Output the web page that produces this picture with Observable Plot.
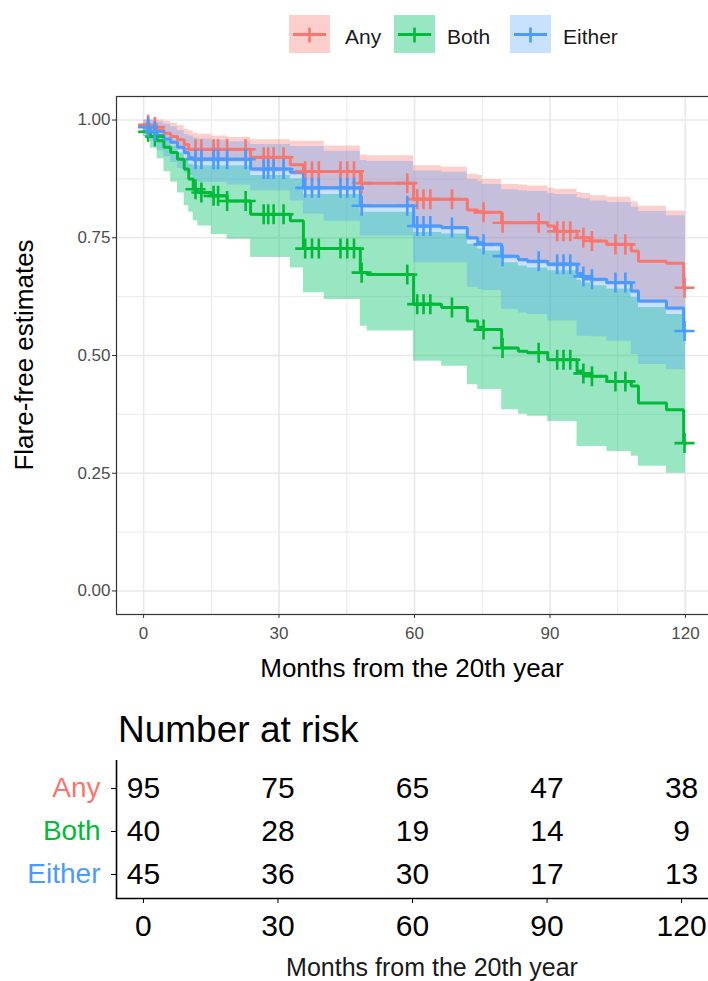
<!DOCTYPE html>
<html>
<head>
<meta charset="utf-8">
<script src="https://cdn.jsdelivr.net/npm/d3@7"></script>
<script src="https://cdn.jsdelivr.net/npm/@observablehq/plot@0.6"></script>
<style>
  html, body { margin: 0; padding: 0; overflow: hidden; background: white; }
  #wrap { position: relative; width: 708px; height: 981px; overflow: hidden; font-family: "Liberation Sans", Arial, sans-serif; }
  #main { position: absolute; left: 0; top: 0; }
  #risk { position: absolute; left: 0; top: 750px; }
  #overlay { position: absolute; left: 0; top: 0; pointer-events: none; }
  svg { max-width: none !important; }
</style>
</head>
<body>
<div id="wrap">
  <div id="main"></div>
  <div id="risk"></div>
</div>
<script>
// ---------------- data ----------------
const groups = ["Any", "Both", "Either"];
const lineColors = ["#F8766D", "#00BA38", "#4A9BFF"];
const bandColors = ["#F8766D", "#00C069", "#4A9BFF"];

// step times (months) at which the curves / confidence limits change
const stepMonths = [0, 1.5, 3, 4.5, 6, 7.5, 9, 10, 11, 12,
  15, 18.5, 23.7, 32.5, 35.4, 40, 48, 49.5, 59.8, 66,
  71.7, 74, 75, 79.3, 83, 85, 89.5, 91, 96, 97,
  99, 102.6, 108, 109.6, 115.8, 119.6, 120];

const anySurv = [0.99, 0.985, 0.979, 0.972, 0.965, 0.958, 0.948, 0.938, 0.938, 0.938,
  0.938, 0.938, 0.921, 0.905, 0.891, 0.891, 0.866, 0.866, 0.832, 0.832,
  0.809, 0.806, 0.804, 0.782, 0.782, 0.782, 0.775, 0.764, 0.75, 0.75,
  0.743, 0.736, 0.722, 0.70, 0.696, 0.644, 0.644];
const anyUpper = [1.0, 1.0, 1.0, 0.997, 0.993, 0.988, 0.98, 0.977, 0.972, 0.97,
  0.966, 0.963, 0.958, 0.955, 0.955, 0.945, 0.926, 0.924, 0.903, 0.9,
  0.885, 0.882, 0.874, 0.863, 0.862, 0.86, 0.855, 0.853, 0.846, 0.844,
  0.839, 0.836, 0.826, 0.817, 0.807, 0.807, 0.807];
const anyLower = [0.975, 0.97, 0.961, 0.954, 0.947, 0.936, 0.925, 0.914, 0.911, 0.911,
  0.911, 0.911, 0.89, 0.883, 0.85, 0.85, 0.812, 0.812, 0.769, 0.766,
  0.744, 0.734, 0.73, 0.705, 0.698, 0.694, 0.688, 0.688, 0.668, 0.662,
  0.656, 0.649, 0.631, 0.61, 0.595, 0.595, 0.595];

const bothSurv = [0.975, 0.965, 0.956, 0.942, 0.931, 0.917, 0.896, 0.875, 0.853, 0.846,
  0.839, 0.828, 0.80, 0.786, 0.727, 0.727, 0.676, 0.672, 0.609, 0.602,
  0.573, 0.56, 0.555, 0.516, 0.509, 0.506, 0.491, 0.491, 0.467, 0.462,
  0.456, 0.445, 0.435, 0.399, 0.385, 0.314, 0.314];
const bothUpper = [0.985, 0.975, 0.965, 0.955, 0.945, 0.93, 0.917, 0.906, 0.903, 0.903,
  0.903, 0.903, 0.882, 0.875, 0.842, 0.842, 0.804, 0.804, 0.761, 0.758,
  0.736, 0.726, 0.722, 0.697, 0.69, 0.686, 0.68, 0.68, 0.66, 0.654,
  0.648, 0.641, 0.623, 0.602, 0.587, 0.587, 0.587];
const bothLower = [0.965, 0.94, 0.918, 0.89, 0.868, 0.845, 0.818, 0.804, 0.786, 0.775,
  0.757, 0.747, 0.708, 0.686, 0.633, 0.619, 0.562, 0.552, 0.488, 0.477,
  0.438, 0.428, 0.428, 0.385, 0.375, 0.371, 0.36, 0.36, 0.307, 0.307,
  0.307, 0.296, 0.286, 0.265, 0.25, 0.25, 0.25];

const eitherSurv = [0.985, 0.976, 0.967, 0.96, 0.953, 0.942, 0.931, 0.92, 0.917, 0.917,
  0.917, 0.917, 0.896, 0.889, 0.856, 0.856, 0.818, 0.818, 0.775, 0.772,
  0.75, 0.74, 0.736, 0.711, 0.704, 0.70, 0.694, 0.694, 0.674, 0.668,
  0.662, 0.655, 0.637, 0.616, 0.601, 0.552, 0.552];
const eitherUpper = [1.0, 1.0, 0.996, 0.991, 0.986, 0.978, 0.97, 0.966, 0.962, 0.96,
  0.957, 0.954, 0.948, 0.944, 0.944, 0.934, 0.914, 0.912, 0.892, 0.889,
  0.874, 0.87, 0.863, 0.852, 0.85, 0.848, 0.844, 0.842, 0.835, 0.833,
  0.828, 0.825, 0.815, 0.806, 0.797, 0.797, 0.797];
const eitherLower = [0.975, 0.955, 0.935, 0.922, 0.91, 0.897, 0.888, 0.882, 0.875, 0.868,
  0.868, 0.862, 0.85, 0.828, 0.80, 0.785, 0.754, 0.754, 0.697, 0.697,
  0.645, 0.64, 0.638, 0.598, 0.59, 0.587, 0.573, 0.573, 0.541, 0.541,
  0.54, 0.53, 0.502, 0.481, 0.47, 0.47, 0.47];

// censoring times (months), shown as "+" on each curve
const censorMonths = [1, 2.5, 11.5, 12.8, 15.5, 16.5, 18.5, 22.6, 26.6, 27.6,
  28.8, 31, 35.8, 37.3, 38.8, 43.6, 45.1, 46.6, 48.3, 58.4,
  60.6, 62, 63.5, 68.3, 75.3, 79.5, 87.5, 91.6, 93, 94.5,
  97.4, 99.3, 104.5, 106.7, 119.8];

// number at risk table
const riskMonths = [0, 30, 60, 90, 120];
const riskAny = [95, 75, 65, 47, 38];
const riskBoth = [40, 28, 19, 14, 9];
const riskEither = [45, 36, 30, 17, 13];

const xTicks = [0, 30, 60, 90, 120];
const xMinor = [15, 45, 75, 105];
const yTicks = [0, 0.25, 0.5, 0.75, 1];
const yMinor = [0.125, 0.375, 0.625, 0.875];

// ---------------- tables ----------------
const series = {
  Any: { surv: anySurv, hi: anyUpper, lo: anyLower },
  Both: { surv: bothSurv, hi: bothUpper, lo: bothLower },
  Either: { surv: eitherSurv, hi: eitherUpper, lo: eitherLower }
};
const curveRows = groups.flatMap(g => stepMonths.map((m, i) => ({
  group: g, month: m, surv: series[g].surv[i], hi: series[g].hi[i], lo: series[g].lo[i]
})));
function survAt(g, t) {
  let v = series[g].surv[0];
  stepMonths.forEach((m, i) => { if (m <= t) v = series[g].surv[i]; });
  return v;
}
const censorRows = groups.flatMap(g => censorMonths.map(m => ({ group: g, month: m, surv: survAt(g, m) })));
const riskCounts = { Any: riskAny, Both: riskBoth, Either: riskEither };
const riskRows = groups.flatMap(g => riskMonths.map((m, i) => ({ group: g, month: m, n: riskCounts[g][i] })));

const font = "Liberation Sans, Arial, sans-serif";
const bandOpacity = [0.35, 0.4, 0.3];

// ---------------- main survival plot ----------------
const main = Plot.plot({
  width: 708, height: 700,
  marginLeft: 116, marginRight: -4, marginTop: 96, marginBottom: 86,
  style: { fontFamily: font, fontSize: "17px", background: "white", overflow: "visible" },
  x: { domain: [-6, 126] },
  y: { domain: [-0.05, 1.05] },
  marks: [
    Plot.gridX(xMinor, { stroke: "#EBEBEB", strokeOpacity: 1, strokeWidth: 1 }),
    Plot.gridY(yMinor, { stroke: "#EBEBEB", strokeOpacity: 1, strokeWidth: 1 }),
    Plot.gridX(xTicks, { stroke: "#E8E8E8", strokeOpacity: 1, strokeWidth: 1.6 }),
    Plot.gridY(yTicks, { stroke: "#E8E8E8", strokeOpacity: 1, strokeWidth: 1.6 }),
    ...groups.map((g, k) => Plot.areaY(curveRows.filter(d => d.group === g), {
      x: "month", y1: "lo", y2: "hi", curve: "step-after",
      fill: bandColors[k], fillOpacity: bandOpacity[k]
    })),
    ...groups.map((g, k) => Plot.line(curveRows.filter(d => d.group === g), {
      x: "month", y: "surv", curve: "step-after",
      stroke: lineColors[k], strokeWidth: 3, strokeLinejoin: "miter"
    })),
    ...groups.map((g, k) => Plot.dot(censorRows.filter(d => d.group === g), {
      x: "month", y: "surv", symbol: "plus", r: 6.5,
      stroke: lineColors[k], strokeWidth: 2.6
    })),
    Plot.frame({ stroke: "#333333", strokeWidth: 1.2 }),
    Plot.axisX({ ticks: xTicks, tickSize: 4, tickPadding: 8, fontSize: 17,
      fill: "#4D4D4D", stroke: "#333333", label: null }),
    Plot.axisY({ ticks: yTicks, tickFormat: d3.format(".2f"), tickSize: 4, tickPadding: 2,
      fontSize: 17, fill: "#4D4D4D", stroke: "#333333", label: null })
  ]
});
document.getElementById("main").appendChild(main);

// ---------------- risk table ----------------
const risk = Plot.plot({
  width: 708, height: 231,
  marginLeft: 116, marginRight: 0, marginTop: 10, marginBottom: 83,
  style: { fontFamily: font, fontSize: "30px", background: "white", overflow: "visible" },
  x: { domain: [-6, 126] },
  y: { type: "point", domain: groups, range: [38, 124], padding: 0 },
  color: { domain: groups, range: lineColors },
  marks: [
    Plot.ruleX([-6], { stroke: "black", strokeWidth: 1.6 }),
    Plot.frame({ anchor: "bottom", stroke: "black", strokeWidth: 1.6 }),
    Plot.text(riskRows, { x: "month", y: "group", text: d => String(d.n), fontSize: 30, fill: "black" }),
    Plot.axisX({ ticks: xTicks, tickSize: 5, tickPadding: 11, fontSize: 30,
      fill: "black", stroke: "black", label: null }),
    Plot.axisY({ tickSize: 5, tickPadding: 11, fontSize: 28, fill: d => d,
      stroke: "black", label: null })
  ]
});
document.getElementById("risk").appendChild(risk);

// ---------------- legend and titles (overlay) ----------------
const NS = "http://www.w3.org/2000/svg";
const overlay = document.createElementNS(NS, "svg");
overlay.setAttribute("id", "overlay");
overlay.setAttribute("width", 708);
overlay.setAttribute("height", 981);
overlay.setAttribute("font-family", font);
function el(tag, attrs, text) {
  const e = document.createElementNS(NS, tag);
  for (const k in attrs) e.setAttribute(k, attrs[k]);
  if (text != null) e.textContent = text;
  overlay.appendChild(e);
  return e;
}
const keyX = [289, 394, 510];
const labelX = [345, 447, 563];
groups.forEach((g, k) => {
  const x = keyX[k];
  el("rect", { x: x, y: 15, width: 41, height: 38, fill: bandColors[k], "fill-opacity": bandOpacity[k] });
  el("line", { x1: x + 4, x2: x + 37, y1: 34.5, y2: 34.5, stroke: lineColors[k], "stroke-width": 2.8 });
  el("line", { x1: x + 20.5, x2: x + 20.5, y1: 27.5, y2: 42.5, stroke: lineColors[k], "stroke-width": 2.6 });
  el("text", { x: labelX[k], y: 43.5, "font-size": 21, fill: "#1A1A1A" }, g);
});
el("text", { transform: "translate(33,355) rotate(-90)", "text-anchor": "middle", "font-size": 26, fill: "black" }, "Flare-free estimates");
el("text", { x: 412, y: 677, "text-anchor": "middle", "font-size": 26, fill: "black" }, "Months from the 20th year");
el("text", { x: 118, y: 742, "font-size": 37, fill: "black" }, "Number at risk");
el("text", { x: 432, y: 976, "text-anchor": "middle", "font-size": 25, fill: "#1A1A1A" }, "Months from the 20th year");
document.getElementById("wrap").appendChild(overlay);
</script>
</body>
</html>
